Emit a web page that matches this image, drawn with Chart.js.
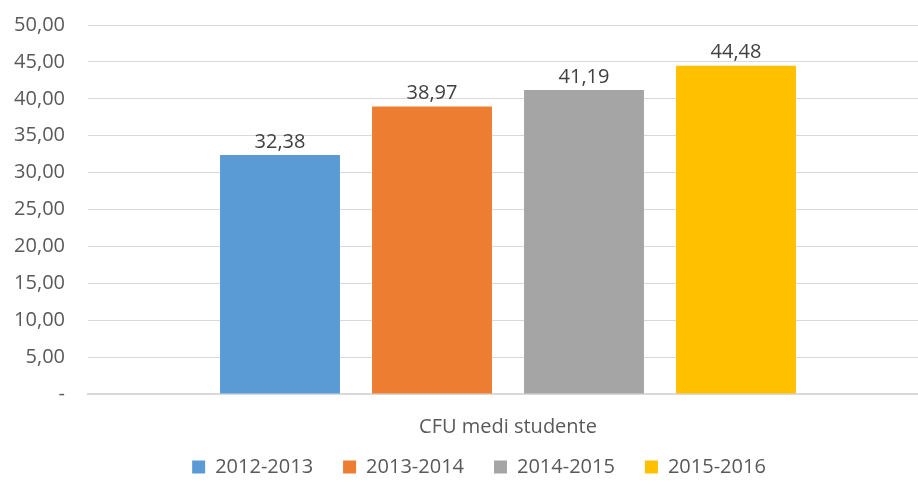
<!DOCTYPE html>
<html><head><meta charset="utf-8">
<script src="https://cdn.jsdelivr.net/npm/chart.js@4"></script>
<style>html,body{margin:0;padding:0;overflow:hidden;background:#fff;width:918px;height:485px}
#wrap{width:928px;height:485px;position:relative}</style>
</head><body><div id="wrap"><canvas id="c"></canvas></div>
<script>
const categories = ["CFU medi studente"];
const seriesNames = ["2012-2013","2013-2014","2014-2015","2015-2016"];
const seriesValues = [32.38, 38.97, 41.19, 44.48];
const seriesColors = ["#5B9BD5","#ED7D31","#A5A5A5","#FFC000"];
const yTicks = [0,5,10,15,20,25,30,35,40,45,50];

const fmt = v => v === 0 ? "-" : v.toFixed(2).replace(".", ",");
const FONT = "'Open Sans', 'DejaVu Sans', sans-serif";
const FS = 20;

const labelPlugin = {
  id: 'vals',
  afterInit(chart){
    const lg = chart.legend;
    if (lg) {
      const f = lg.fit.bind(lg);
      lg.fit = function(){ f(); this.height = 33; };
    }
  },
  afterLayout(chart){
    const lg = chart.legend;
    if (lg) { lg.top -= 25; lg.left += 15; lg.right += 15; }
    const x = chart.scales.x;
    if (x) { x.bottom += 10; }
  },
  afterDatasetsDraw(chart){
    const ctx = chart.ctx;
    ctx.save();
    ctx.font = FS + "px " + FONT;
    ctx.fillStyle = "#404040";
    ctx.textAlign = "center";
    ctx.textBaseline = "bottom";
    chart.data.datasets.forEach((ds,i)=>{
      chart.getDatasetMeta(i).data.forEach((el,j)=>{
        ctx.fillText(fmt(ds.data[j]), el.x, el.y - 3);
      });
    });
    ctx.restore();
  }
};

new Chart(document.getElementById('c'), {
  type: 'bar',
  data: {
    labels: categories,
    datasets: seriesNames.map((n,i)=>({label:n, data:[seriesValues[i]], backgroundColor:seriesColors[i],
      categoryPercentage:0.7238, barPercentage:0.789}))
  },
  options: {
    responsive:true, maintainAspectRatio:false, animation:false,
    layout:{padding:{top:0,right:0,bottom:0,left:0}},
    plugins:{
      legend:{position:'bottom', labels:{boxWidth:13, boxHeight:13, padding:30, color:'#595959', font:{family:FONT,size:FS}}},
      tooltip:{enabled:false}
    },
    scales:{
      x:{grid:{display:false}, border:{color:'#D9D9D9', width:2},
         ticks:{color:'#595959', padding:13, font:{family:FONT,size:FS}}},
      y:{min:0,max:50, afterBuildTicks: s => { s.ticks = yTicks.map(v=>({value:v})); },
         afterFit: s => { s.width = 88; s.paddingTop = 25; },
         grid:{color:'#D9D9D9', drawTicks:false, lineWidth:1}, border:{display:false},
         ticks:{color:'#595959', padding:23, font:{family:FONT,size:FS}, callback: v => fmt(v)}}
    }
  },
  plugins:[labelPlugin]
});
</script></body></html>
